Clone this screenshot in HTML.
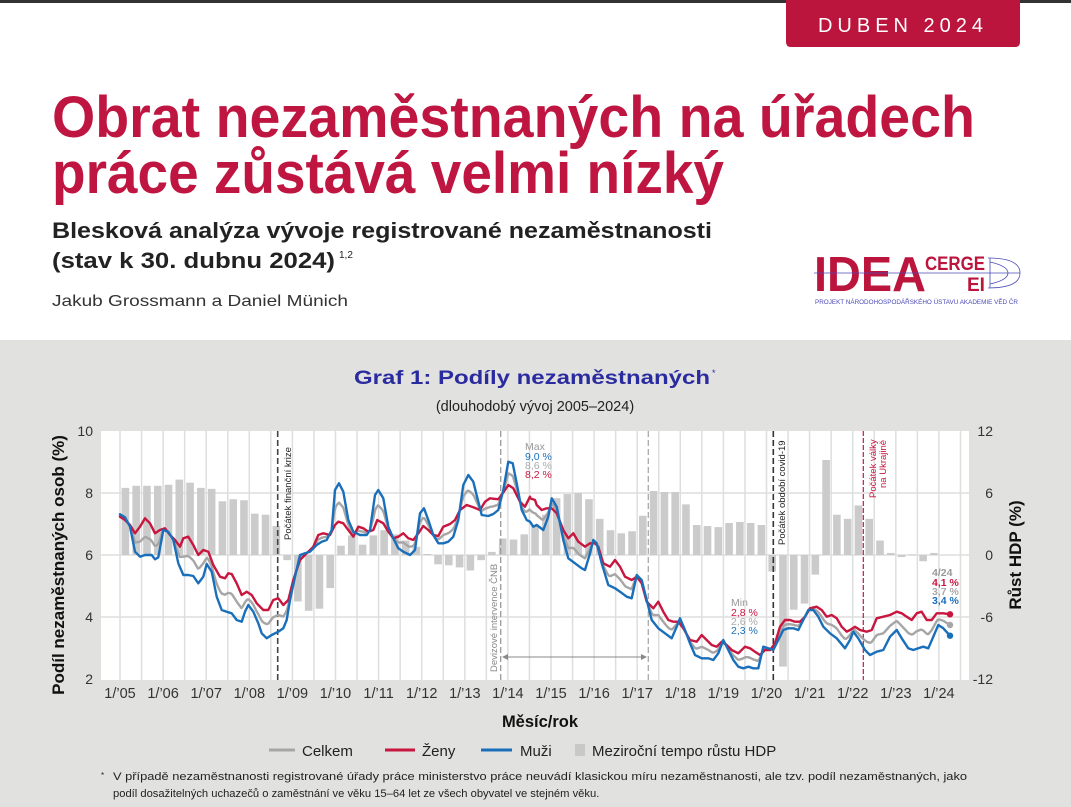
<!DOCTYPE html>
<html><head><meta charset="utf-8"><style>
html,body{margin:0;padding:0;background:#fff}
svg{display:block}
text{font-family:"Liberation Sans",sans-serif}
</style></head><body>
<svg id="s" width="1071" height="807" viewBox="0 0 1071 807" xmlns="http://www.w3.org/2000/svg">
<rect x="0" y="0" width="1071" height="807" fill="#fff"/>
<rect x="0" y="0" width="1071" height="3" fill="#333"/>
<path d="M786 0 H1020 V42 Q1020 47 1015 47 H791 Q786 47 786 42 Z" fill="#bb143d"/>
<text x="903" y="32" text-anchor="middle" font-size="20" fill="#fff" letter-spacing="5">DUBEN 2024</text>
<text x="52" y="137" font-size="58" font-weight="bold" fill="#bf1541" textLength="923" lengthAdjust="spacingAndGlyphs">Obrat nezaměstnaných na úřadech</text>
<text x="52" y="193" font-size="58" font-weight="bold" fill="#bf1541" textLength="672" lengthAdjust="spacingAndGlyphs">práce zůstává velmi nízký</text>
<text x="52" y="238" font-size="22" font-weight="bold" fill="#222" textLength="660" lengthAdjust="spacingAndGlyphs">Blesková analýza vývoje registrované nezaměstnanosti</text>
<text x="52" y="268" font-size="22" font-weight="bold" fill="#222" textLength="283" lengthAdjust="spacingAndGlyphs">(stav k 30. dubnu 2024)</text>
<text x="339" y="258" font-size="10" fill="#222">1,2</text>
<text x="52" y="306" font-size="16" fill="#333" textLength="296" lengthAdjust="spacingAndGlyphs">Jakub Grossmann a Daniel Münich</text>
<text x="814" y="291" font-size="49" font-weight="bold" fill="#bb143d" textLength="112" lengthAdjust="spacingAndGlyphs">IDEA</text>
<text x="925" y="270" font-size="19" font-weight="bold" fill="#bb143d" textLength="60" lengthAdjust="spacingAndGlyphs">CERGE</text>
<text x="967" y="291" font-size="19" font-weight="bold" fill="#bb143d">EI</text>
<line x1="814" y1="273" x2="1020" y2="273" stroke="#4a4ab8" stroke-width="0.8"/>
<g fill="none" stroke="#4a4ab8" stroke-width="0.8"><path d="M988 258 Q1020 258 1020 273 Q1020 288 988 288"/><path d="M990 262 Q1008 266 1008 273 Q1008 280 990 284"/><line x1="990" y1="258" x2="990" y2="288"/></g>
<text x="815" y="304" font-size="6.2" fill="#4a4ab8" textLength="203" lengthAdjust="spacingAndGlyphs">PROJEKT NÁRODOHOSPODÁŘSKÉHO ÚSTAVU AKADEMIE VĚD ČR</text>
<rect x="0" y="340" width="1071" height="467" fill="#e1e1e0"/>
<text x="354" y="384" font-size="19" font-weight="bold" fill="#2b2ba0" textLength="356" lengthAdjust="spacingAndGlyphs">Graf 1: Podíly nezaměstnaných</text>
<text x="712" y="376" font-size="9" fill="#2b2ba0">*</text>
<text x="535" y="411" text-anchor="middle" font-size="14.5" fill="#222">(dlouhodobý vývoj 2005–2024)</text>
<rect x="101" y="431" width="868" height="249" fill="#fff"/>
<g id="grid"></g>
<g id="bars"></g>
<g id="vl"></g>
<g id="lines"></g>
<text transform="translate(291,540) rotate(-90)" font-size="9.5" fill="#222">Počátek finanční krize</text>
<text transform="translate(497,672) rotate(-90)" font-size="9.5" fill="#888">Devizové intervence ČNB</text>
<text transform="translate(785,545) rotate(-90)" font-size="9.5" fill="#222">Počátek období covid-19</text>
<text transform="translate(876,498) rotate(-90)" font-size="9.5" fill="#c8163f">Počátek války</text>
<text transform="translate(886,488) rotate(-90)" font-size="9.5" fill="#c8163f">na Ukrajině</text>
<g font-size="10.5">
<text x="525" y="450" fill="#999">Max</text>
<text x="525" y="460" fill="#1a6fba">9,0 %</text>
<text x="525" y="469" fill="#aaa">8,6 %</text>
<text x="525" y="478" fill="#c8163f">8,2 %</text>
<text x="731" y="606" fill="#999">Min</text>
<text x="731" y="616" fill="#c8163f">2,8 %</text>
<text x="731" y="625" fill="#aaa">2,6 %</text>
<text x="731" y="634" fill="#1a6fba">2,3 %</text>
</g>
<g font-size="10.5" font-weight="bold">
<text x="932" y="576" fill="#999">4/24</text>
<text x="932" y="586" fill="#c8163f">4,1 %</text>
<text x="932" y="595" fill="#aaa">3,7 %</text>
<text x="932" y="604" fill="#1a6fba">3,4 %</text>
</g>
<g font-size="14" fill="#333" text-anchor="end">
<text x="93" y="436">10</text><text x="93" y="498">8</text><text x="93" y="560">6</text><text x="93" y="622">4</text><text x="93" y="684">2</text>
<text x="993" y="436">12</text><text x="993" y="498">6</text><text x="993" y="560">0</text><text x="993" y="622">-6</text><text x="993" y="684">-12</text>
</g>
<g id="xl" font-size="14.5" fill="#333" text-anchor="middle"></g>
<text transform="translate(64,565) rotate(-90)" text-anchor="middle" font-size="17" font-weight="bold" fill="#111">Podíl nezaměstnaných osob (%)</text>
<text transform="translate(1021,555) rotate(-90)" text-anchor="middle" font-size="17" font-weight="bold" fill="#111">Růst HDP (%)</text>
<text x="540" y="727" text-anchor="middle" font-size="16.5" font-weight="bold" fill="#111">Měsíc/rok</text>
<g font-size="15" fill="#222">
<line x1="269" y1="750" x2="295" y2="750" stroke="#a6a6a6" stroke-width="3"/>
<text x="302" y="756">Celkem</text>
<line x1="385" y1="750" x2="415" y2="750" stroke="#c8163f" stroke-width="3"/>
<text x="422" y="756">Ženy</text>
<line x1="481" y1="750" x2="512" y2="750" stroke="#1a6fba" stroke-width="3"/>
<text x="520" y="756">Muži</text>
<rect x="575" y="744" width="10" height="12" fill="#c8c8c8"/>
<text x="592" y="756">Meziroční tempo růstu HDP</text>
</g>
<g font-size="11.2" fill="#222">
<text x="101" y="778" font-size="8">*</text>
<text x="113" y="780" textLength="854" lengthAdjust="spacingAndGlyphs">V případě nezaměstnanosti registrované úřady práce ministerstvo práce neuvádí klasickou míru nezaměstnanosti, ale tzv. podíl nezaměstnaných, jako</text>
<text x="113" y="797">podíl dosažitelných uchazečů o zaměstnání ve věku 15–64 let ze všech obyvatel ve stejném věku.</text>
</g>
</svg>
<script>
(function(){
var NS="http://www.w3.org/2000/svg";
function el(p,t,a){var e=document.createElementNS(NS,t);for(var k in a)e.setAttribute(k,a[k]);p.appendChild(e);return e;}
var g=document.getElementById('grid');
for(var k=0;k<40;k++){var x=120+k*21.55;if(x>968)break;el(g,'line',{x1:x,y1:431,x2:x,y2:680,stroke:'#dedede','stroke-width':1.5});}
[493,555,617].forEach(function(y){el(g,'line',{x1:101,y1:y,x2:969,y2:y,stroke:'#dedede','stroke-width':1.5});});
var gdp=[6.5,6.7,6.7,6.7,6.8,7.3,7.0,6.5,6.4,5.2,5.4,5.3,4.0,3.9,2.8,-0.5,-4.5,-5.4,-5.2,-3.2,0.9,1.9,1.0,1.9,2.4,2.0,1.4,0.8,0.1,-0.9,-1.0,-1.2,-1.5,-0.5,0.3,1.6,1.5,2.0,2.9,3.9,5.5,5.9,6.0,5.4,3.5,2.4,2.1,2.3,3.8,6.2,6.1,6.1,4.9,2.9,2.8,2.7,3.1,3.2,3.1,2.9,-1.6,-10.8,-5.3,-4.7,-1.9,9.2,3.9,3.5,4.8,3.5,1.4,0.2,-0.2,0.05,-0.6,0.2];
var b=document.getElementById('bars');
gdp.forEach(function(v,i){var cx=125.4+i*10.78;var y=555-v*10.33;el(b,'rect',{x:cx-3.8,y:Math.min(y,555),width:7.6,height:Math.max(Math.abs(555-y),0.8),fill:'#cbcbcb'});});
var vl=document.getElementById('vl');
function dl(x,c,w,d){el(vl,'line',{x1:x,y1:431,x2:x,y2:680,stroke:c,'stroke-width':w,'stroke-dasharray':d});}
dl(277.7,'#444',1.6,'6,3');dl(500.7,'#999',1.3,'6,3');dl(648.3,'#aaa',1.3,'6,3');dl(773.3,'#333',1.6,'6,3');dl(863.3,'#c8163f',1.2,'5,2');
el(vl,'line',{x1:504,y1:657,x2:645,y2:657,stroke:'#888','stroke-width':1});
el(vl,'path',{d:'M502 657 l6 -3 v6 z M647 657 l-6 -3 v6 z',fill:'#888'});
var blue1=[[240,283],[255,292],[270,320],[285,395],[300,410],[315,405],[335,405],[345,418],[355,412],[370,330],[385,335],[400,360],[415,430],[430,465],[445,465],[460,468],[475,490],[490,470],[500,432],[515,455],[530,530],[545,570],[560,575],[575,580],[590,600],[605,605],[615,575],[625,555],[640,575],[655,610],[665,640],[680,655],[695,645],[715,635],[730,625],[740,600],[750,540],[765,470],[780,405],[795,400],[810,395],[830,375],[845,365],[860,360],[875,330],[885,210],[897,190],[910,215],[925,300],[940,335],[960,345],[980,345],[990,330],[1005,225],[1015,210],[1030,235],[1045,320],[1060,355],[1075,385],[1090,395],[1110,405],[1125,390],[1140,280],[1152,265],[1165,300],[1180,345],[1195,370],[1210,370],[1225,365],[1240,350],[1255,300],[1270,195],[1285,165],[1300,185],[1315,245],[1325,285],[1345,288],[1360,282],[1375,270],[1390,210],[1405,125],[1418,130],[1430,190],[1445,270],[1460,300],[1480,320]];
var red1=[[240,290],[255,300],[270,315],[285,340],[300,320],[315,295],[330,310],[345,340],[360,330],[375,325],[390,345],[405,360],[420,380],[430,355],[445,350],[460,375],[475,405],[490,390],[505,395],[520,435],[540,470],[555,475],[565,460],[575,462],[590,490],[605,525],[620,515],[635,525],[650,550],[670,570],[685,570],[700,540],[715,535],[730,555],[745,540],[760,480],[780,420],[800,400],[820,380],[835,345],[850,340],[870,345],[885,315],[895,305],[910,310],[925,330],[940,350],[955,320],[970,325],[985,335],[1000,330],[1012,300],[1030,310],[1045,335],[1060,355],[1075,350],[1090,340],[1105,355],[1120,360],[1135,340],[1150,318],[1165,330],[1180,345],[1195,348],[1210,320],[1230,312],[1245,300],[1260,270],[1280,255],[1300,262],[1320,270],[1335,245],[1350,235],[1375,238],[1395,210],[1405,195],[1420,205],[1440,245],[1455,260],[1470,230],[1485,240]];
var blue2=[[0,305],[20,315],[40,330],[55,290],[65,235],[80,260],[100,360],[115,415],[135,430],[155,445],[165,450],[180,400],[190,360],[200,370],[215,430],[235,495],[255,505],[270,515],[290,530],[305,535],[320,465],[335,480],[350,540],[365,600],[385,625],[405,640],[425,655],[440,620],[450,595],[465,630],[480,670],[495,705],[515,715],[535,715],[550,720],[565,700],[580,660],[595,690],[610,720],[625,740],[640,745],[655,740],[670,745],[685,745],[700,680],[715,685],[730,690],[745,660],[760,630],[775,625],[790,625],[805,630],[820,600],[835,570],[850,570],[865,590],[880,620],[900,640],[920,655],[945,685],[960,660],[970,635],[985,655],[1005,690],[1020,705],[1040,695],[1060,690],[1080,650],[1100,630],[1115,655],[1135,685],[1150,690],[1165,685],[1180,680],[1195,685],[1210,650],[1225,615],[1240,625],[1260,647]];
var red2=[[0,235],[20,255],[35,270],[50,265],[65,265],[80,280],[100,330],[115,355],[130,340],[145,365],[165,380],[180,370],[195,370],[205,380],[220,430],[240,440],[255,420],[270,440],[285,470],[305,480],[320,470],[335,490],[350,545],[370,565],[385,545],[400,575],[415,600],[430,605],[445,605],[460,625],[480,660],[500,665],[515,645],[530,660],[545,675],[560,680],[575,665],[590,675],[605,690],[625,700],[645,680],[660,685],[675,695],[690,705],[705,690],[720,690],[735,670],[750,620],[765,600],[780,600],[795,605],[810,605],[825,590],[840,565],[860,560],[875,570],[890,590],[905,585],[920,595],[935,620],[950,635],[960,630],[975,620],[990,630],[1010,635],[1025,630],[1040,595],[1060,590],[1080,585],[1100,575],[1115,580],[1130,590],[1145,600],[1160,580],[1175,575],[1190,600],[1205,600],[1220,580],[1240,580],[1260,583]];
function conv(a,ox){return a.map(function(p){return [ox+p[0]/3,420+p[1]/3];});}
var B=conv(blue1,40).concat(conv(blue2,530)).sort(function(a,b){return a[0]-b[0];});
var R=conv(red1,40).concat(conv(red2,530)).sort(function(a,b){return a[0]-b[0];});
function interp(A,x){if(x<=A[0][0])return A[0][1];for(var i=1;i<A.length;i++){if(A[i][0]>=x){var t=(x-A[i-1][0])/(A[i][0]-A[i-1][0]||1);return A[i-1][1]+t*(A[i][1]-A[i-1][1]);}}return A[A.length-1][1];}
var G=[];for(var x=120;x<=950;x+=1.5){G.push([x,(interp(B,x)+interp(R,x))/2]);}
function d(A){return 'M'+A.map(function(p){return p[0].toFixed(1)+' '+p[1].toFixed(1);}).join(' L');}
var L=document.getElementById('lines');
var common={fill:'none','stroke-width':2.4,'stroke-linejoin':'round','stroke-linecap':'round'};
function pl(A,c){var a={d:d(A),stroke:c};for(var k in common)a[k]=common[k];el(L,'path',a);}
pl(G,'#a6a6a6');pl(R,'#c8163f');pl(B,'#1a6fba');
el(L,'circle',{cx:950,cy:625,r:3.2,fill:'#a6a6a6'});
el(L,'circle',{cx:950,cy:614.3,r:3.2,fill:'#c8163f'});
el(L,'circle',{cx:950,cy:635.7,r:3.2,fill:'#1a6fba'});
var xl=document.getElementById('xl');
for(var y=0;y<20;y++){var t=el(xl,'text',{x:120+y*43.1,y:698});t.textContent="1/’"+(y+5<10?'0':'')+(y+5);}
})();
</script>
</body></html>
